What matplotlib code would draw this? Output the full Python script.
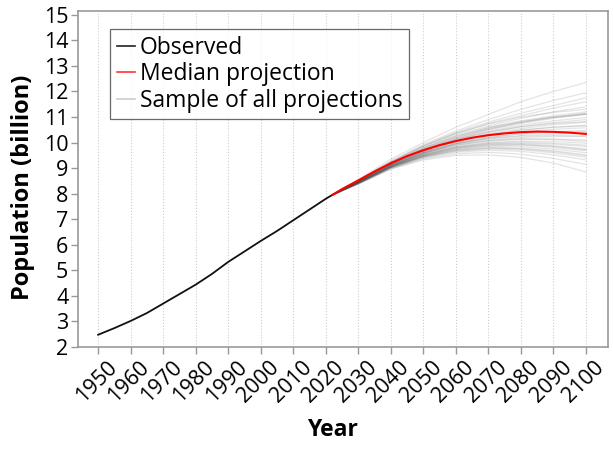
import matplotlib
matplotlib.use("Agg")
import matplotlib.pyplot as plt
from matplotlib.transforms import ScaledTranslation

obs_years = [1950, 1955, 1960, 1965, 1970, 1975, 1980, 1985, 1990, 1995, 2000, 2005, 2010, 2015, 2020, 2022]
obs_pop = [2.48, 2.74, 3.02, 3.33, 3.70, 4.07, 4.44, 4.86, 5.33, 5.74, 6.15, 6.54, 6.96, 7.38, 7.80, 7.95]

median_years = [2022, 2025, 2030, 2035, 2040, 2045, 2050, 2055, 2060, 2065, 2070, 2075, 2080, 2085, 2090, 2095, 2100]
median_pop = [7.95, 8.18, 8.52, 8.87, 9.19, 9.47, 9.70, 9.90, 10.06, 10.19, 10.29, 10.36, 10.41, 10.43, 10.42, 10.39, 10.34]

proj_years = [2022, 2030, 2040, 2050, 2060, 2070, 2080, 2090, 2100]
samples = [
    [7.95, 8.55, 9.35, 10.00, 10.60, 11.10, 11.60, 12.00, 12.35],
    [7.95, 8.52, 9.28, 9.92, 10.45, 10.90, 11.30, 11.65, 11.95],
    [7.95, 8.50, 9.25, 9.88, 10.40, 10.80, 11.15, 11.45, 11.75],
    [7.95, 8.50, 9.22, 9.85, 10.35, 10.75, 11.05, 11.35, 11.60],
    [7.95, 8.49, 9.20, 9.80, 10.30, 10.65, 10.95, 11.20, 11.40],
    [7.95, 8.48, 9.20, 9.78, 10.25, 10.60, 10.85, 11.05, 11.20],
    [7.95, 8.48, 9.18, 9.75, 10.20, 10.55, 10.80, 11.00, 11.15],
    [7.95, 8.47, 9.17, 9.72, 10.15, 10.50, 10.75, 10.95, 11.10],
    [7.95, 8.47, 9.15, 9.70, 10.12, 10.45, 10.68, 10.85, 10.98],
    [7.95, 8.46, 9.14, 9.68, 10.10, 10.40, 10.62, 10.78, 10.90],
    [7.95, 8.46, 9.13, 9.66, 10.06, 10.35, 10.55, 10.70, 10.80],
    [7.95, 8.45, 9.12, 9.64, 10.03, 10.30, 10.48, 10.60, 10.68],
    [7.95, 8.45, 9.11, 9.62, 10.00, 10.25, 10.42, 10.52, 10.58],
    [7.95, 8.44, 9.10, 9.60, 9.97, 10.20, 10.35, 10.43, 10.47],
    [7.95, 8.44, 9.09, 9.58, 9.94, 10.16, 10.28, 10.34, 10.36],
    [7.95, 8.43, 9.08, 9.56, 9.90, 10.10, 10.20, 10.24, 10.24],
    [7.95, 8.43, 9.07, 9.54, 9.86, 10.05, 10.13, 10.14, 10.10],
    [7.95, 8.42, 9.06, 9.52, 9.83, 10.00, 10.06, 10.04, 9.98],
    [7.95, 8.42, 9.05, 9.50, 9.80, 9.95, 9.98, 9.94, 9.85],
    [7.95, 8.41, 9.04, 9.48, 9.76, 9.90, 9.92, 9.85, 9.72],
    [7.95, 8.41, 9.03, 9.46, 9.72, 9.84, 9.84, 9.75, 9.60],
    [7.95, 8.40, 9.02, 9.44, 9.68, 9.78, 9.76, 9.65, 9.48],
    [7.95, 8.40, 9.00, 9.40, 9.62, 9.70, 9.66, 9.52, 9.32],
    [7.95, 8.38, 8.98, 9.36, 9.56, 9.62, 9.55, 9.38, 9.15],
    [7.95, 8.37, 8.96, 9.32, 9.50, 9.52, 9.42, 9.20, 8.85],
    [7.95, 8.47, 9.16, 9.72, 10.18, 10.52, 10.78, 10.98, 11.12],
    [7.95, 8.46, 9.15, 9.70, 10.12, 10.42, 10.62, 10.75, 10.82],
    [7.95, 8.45, 9.12, 9.65, 10.05, 10.32, 10.50, 10.60, 10.65],
    [7.95, 8.44, 9.10, 9.60, 9.95, 10.15, 10.25, 10.28, 10.26],
    [7.95, 8.43, 9.08, 9.57, 9.90, 10.08, 10.15, 10.12, 10.05],
    [7.95, 8.42, 9.06, 9.52, 9.82, 9.98, 10.02, 9.98, 9.90],
    [7.95, 8.41, 9.04, 9.47, 9.75, 9.88, 9.90, 9.82, 9.68],
    [7.95, 8.50, 9.24, 9.86, 10.36, 10.72, 11.00, 11.18, 11.30],
    [7.95, 8.48, 9.20, 9.78, 10.24, 10.58, 10.82, 11.00, 11.12],
    [7.95, 8.44, 9.09, 9.59, 9.96, 10.20, 10.34, 10.42, 10.44],
    [7.95, 8.42, 9.05, 9.50, 9.79, 9.93, 9.95, 9.88, 9.75],
    [7.95, 8.39, 9.00, 9.42, 9.66, 9.75, 9.72, 9.60, 9.42],
    [7.95, 8.41, 9.03, 9.45, 9.70, 9.80, 9.78, 9.68, 9.52],
]

x_ticks = list(range(1950, 2101, 10))
y_ticks = list(range(2, 16))
y_grid = [4, 6, 8, 10, 12, 14]

plt.rcParams['font.family'] = ['Open Sans', 'DejaVu Sans']

fig = plt.figure(figsize=(6.13, 4.49), dpi=100)
ax = fig.add_axes([78/613, 1-347/449, 530/613, 336/449])

for s in samples:
    ax.plot(proj_years, s, color='#444444', alpha=0.14, lw=0.9)
ax.plot(obs_years, obs_pop, color='#111111', lw=1.3)
ax.plot(median_years, median_pop, color='#ff0000', lw=1.5)

h1, = ax.plot([], [], color='#222222', lw=1.2, label='Observed')
h2, = ax.plot([], [], color='#ff3333', lw=1.2, label='Median projection')
h3, = ax.plot([], [], color='#cccccc', lw=1.2, label='Sample of all projections')

ax.set_xlim(1943.8, 2106.8)
ax.set_ylim(2, 15.15)
ax.set_xticks(x_ticks)
ax.set_yticks(y_ticks)
ax.set_yticks(y_grid, minor=True)
ax.set_xticklabels([str(v) for v in x_ticks], rotation=45, ha='right', va='top', rotation_mode='anchor')
ax.tick_params(axis='both', labelsize=15.5, color='#999999', length=5, width=1, direction='out', pad=2)
ax.tick_params(axis='y', which='minor', length=0)
offset = ScaledTranslation(8/100, 0, fig.dpi_scale_trans)
for lab in ax.get_xticklabels():
    lab.set_transform(lab.get_transform() + offset)
for lab in ax.get_xticklabels() + ax.get_yticklabels():
    lab.set_fontweight('medium')
ax.grid(True, axis='x', which='major', linestyle=':', color='#cccccc', lw=0.8)
ax.grid(True, axis='y', which='minor', linestyle=':', color='#cccccc', lw=0.8)
ax.set_axisbelow(True)
for sp in ax.spines.values():
    sp.set_color('#999999')
    sp.set_linewidth(1.2)

ax.set_xlabel('Year', fontsize=16.5, fontweight='bold', va='top')
ax.xaxis.set_label_coords((332-78)/530, -(418-347)/336)
ax.set_ylabel('Population (billion)', fontsize=17, fontweight='bold', va='center')
ax.yaxis.set_label_coords((23-78)/530, (347-187)/336)

leg = ax.legend(handles=[h1, h2, h3], loc='upper left', bbox_to_anchor=(0.060, 0.946),
                fontsize=16.5, frameon=True, fancybox=False, edgecolor='#444444',
                handlelength=0.8, handletextpad=0.2, borderpad=0.3, labelspacing=0.1,
                borderaxespad=0)
leg.get_frame().set_linewidth(0.9)

fig.savefig('out.png', dpi=100)
